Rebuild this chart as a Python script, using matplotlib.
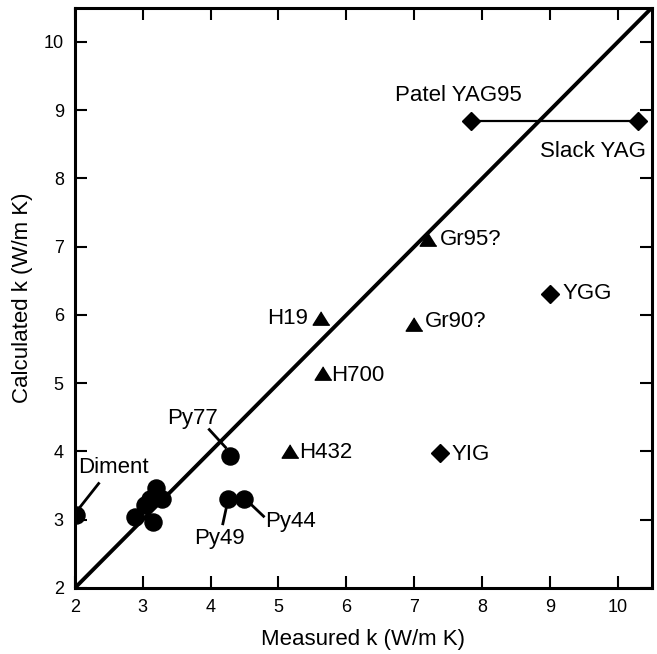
import matplotlib

matplotlib.use("Agg")
import matplotlib.pyplot as plt

plt.rcParams["font.family"] = ["Liberation Sans", "DejaVu Sans"]

# ---- data ----
circle_x = [2.01, 2.88, 3.04, 3.10, 3.15, 3.20, 3.29, 4.28, 4.26, 4.49]
circle_y = [3.07, 3.04, 3.22, 3.31, 2.97, 3.46, 3.30, 3.94, 3.31, 3.31]

tri_names = ["H432", "H700", "H19", "Gr95?", "Gr90?"]
tri_x = [5.17, 5.65, 5.62, 7.20, 7.00]
tri_y = [4.00, 5.15, 5.95, 7.12, 5.87]

dia_names = ["YIG", "YGG", "Patel YAG95", "Slack YAG"]
dia_x = [7.38, 9.00, 7.84, 10.30]
dia_y = [3.97, 6.30, 8.84, 8.84]

# labels: (text, x, y, ha)
labels = [
    ("H432", 5.31, 3.98, "left"),
    ("H700", 5.78, 5.12, "left"),
    ("H19", 5.43, 5.95, "right"),
    ("Gr95?", 7.38, 7.10, "left"),
    ("Gr90?", 7.16, 5.90, "left"),
    ("YIG", 7.55, 3.95, "left"),
    ("YGG", 9.18, 6.32, "left"),
    ("Patel YAG95", 7.65, 9.22, "center"),
    ("Slack YAG", 10.41, 8.40, "right"),
    ("Diment", 2.05, 3.77, "left"),
    ("Py77", 3.73, 4.49, "center"),
    ("Py49", 4.13, 2.72, "center"),
    ("Py44", 4.80, 2.98, "left"),
]

# leader lines: (x0, x1, y0, y1)
leaders = [
    (2.08, 2.35, 3.19, 3.53),
    (3.98, 4.22, 4.32, 4.06),
    (4.23, 4.18, 3.17, 2.94),
    (4.60, 4.78, 3.22, 3.05),
]

lim = (2, 10.5)
tri_marker = [(0, 0.8), (-1, -0.8), (1, -0.8)]

fig = plt.figure(figsize=(6.57, 6.54), dpi=100)
ax = fig.add_axes([0.114, 0.101, 0.878, 0.887])

ax.plot(lim, lim, color="black", linewidth=2.8, zorder=2)
ax.plot(dia_x[2:], dia_y[2:], color="black", linewidth=1.6, zorder=2)

ax.plot(circle_x, circle_y, "o", color="black", markersize=12.3, zorder=3)
ax.plot(tri_x, tri_y, marker=tri_marker, linestyle="none", color="black",
        markersize=12, zorder=3)
ax.plot(dia_x, dia_y, "D", color="black", markersize=8.7, zorder=3)

for x0, x1, y0, y1 in leaders:
    ax.plot([x0, x1], [y0, y1], color="black", linewidth=2, zorder=2)

for txt, x, y, ha in labels:
    ax.text(x, y, txt, ha=ha, va="center", fontsize=16)

ax.set_xlim(*lim)
ax.set_ylim(*lim)
ax.set_xticks(range(2, 11))
ax.set_yticks(range(2, 11))
ax.tick_params(direction="in", length=8.6, width=1.5, labelsize=13,
               top=True, right=True, pad=8)
for s in ax.spines.values():
    s.set_linewidth(2.2)

ax.set_xlabel("Measured k (W/m K)", fontsize=16, labelpad=9)
ax.set_ylabel("Calculated k (W/m K)", fontsize=16, labelpad=8)

fig.savefig("out.png", dpi=100)
